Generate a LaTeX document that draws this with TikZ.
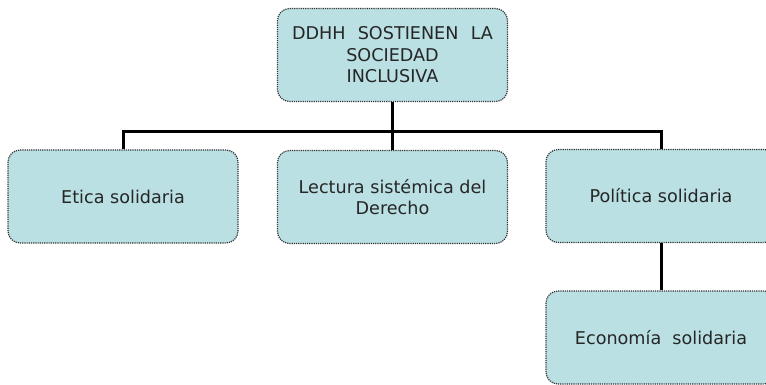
\documentclass[tikz,border=0pt]{standalone}
\usepackage{fontspec}
\setmainfont{DejaVu Sans}
\definecolor{boxfill}{RGB}{186,224,227}
\definecolor{boxline}{RGB}{50,50,50}
\begin{document}
\begin{tikzpicture}[x=1pt,y=-1pt,
  cbox/.style={draw=boxline, densely dotted, line width=1.2pt, fill=boxfill,
    rounded corners=12pt, minimum width=230pt, minimum height=93pt,
    align=center, inner sep=0pt, text=black!85,
    font=\fontsize{17.6}{21.5}\selectfont},
  conn/.style={line width=3pt, black}]
\useasboundingbox (0,0) rectangle (766,385);
\clip (0,0) rectangle (766,385);
\fill[white] (0,0) rectangle (766,385);
\node[cbox] (top) at (392.5,55) {\makebox[201pt][s]{DDHH\ SOSTIENEN\ LA}\\SOCIEDAD\\INCLUSIVA};
\node[cbox] (etica) at (123,196.5) {Etica solidaria};
\node[cbox] (lect) at (392.5,197) {Lectura sistémica del\\Derecho};
\node[cbox] (pol) at (661,196) {Política solidaria};
\node[cbox] (eco) at (661,337.5) {Economía\ \ solidaria};
\coordinate (bar) at (392.5,132);
\draw[conn] (top.south) -- (bar);
\draw[conn, line cap=rect] (etica.north |- bar) -- (pol.north |- bar);
\draw[conn] (etica.north |- bar) -- (etica.north);
\draw[conn] (bar) -- (lect.north);
\draw[conn] (pol.north |- bar) -- (pol.north);
\draw[conn] (pol.south) -- (eco.north);
\end{tikzpicture}
\end{document}
